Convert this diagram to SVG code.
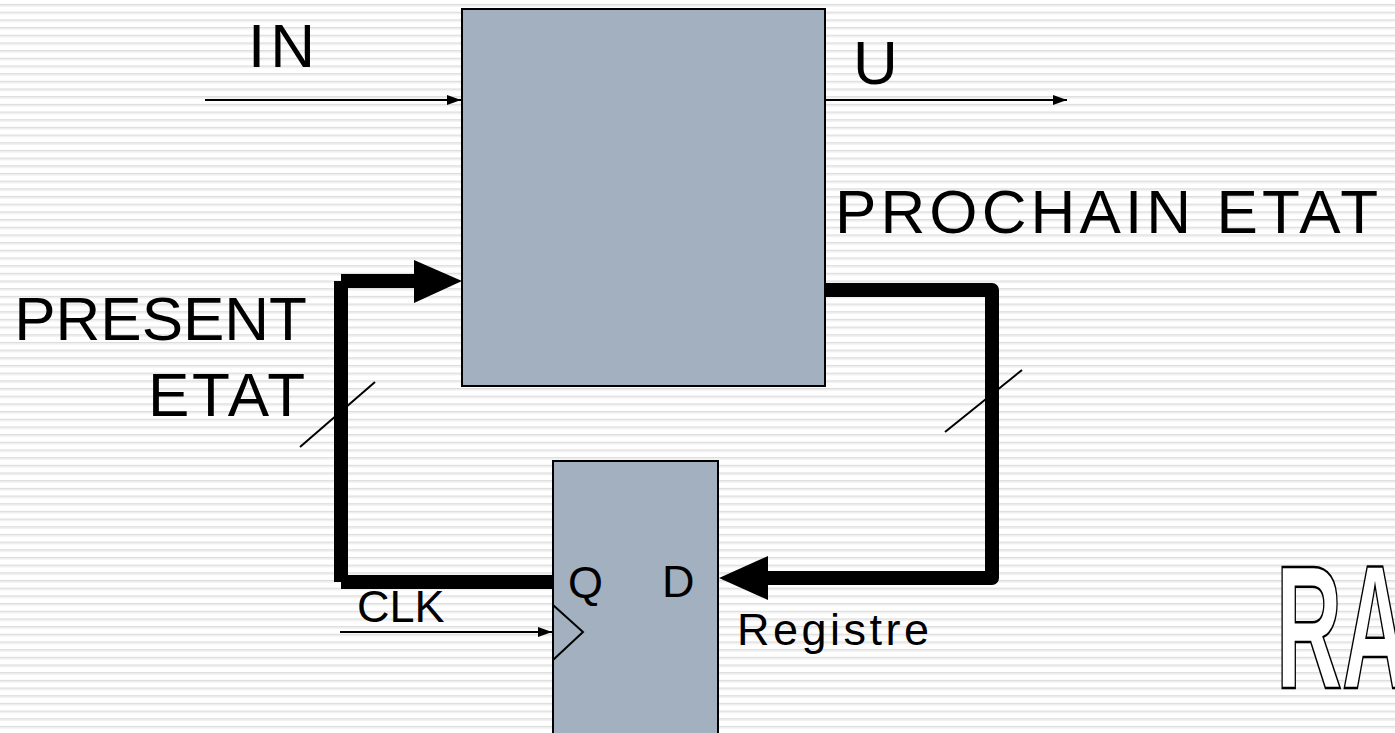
<svg xmlns="http://www.w3.org/2000/svg" width="1395" height="733" viewBox="0 0 1395 733">
<defs>
<pattern id="stripes" x="0" y="4" width="20" height="7.68" patternUnits="userSpaceOnUse">
<rect x="0" y="0" width="20" height="1.3" fill="#dcdcdc"/>
<rect x="0" y="1.3" width="20" height="1.2" fill="#ebebeb"/>
</pattern>
<marker id="ah" markerWidth="14" markerHeight="10" refX="14" refY="5" orient="auto" markerUnits="userSpaceOnUse" viewBox="0 0 14 10">
<path d="M0,0 L14,5 L0,10 Z" fill="#000"/>
</marker>
<style>
.t{font-family:"Liberation Sans",Arial,sans-serif;fill:#000}
.big{font-size:62px}
.med{font-size:45px}
.box{fill:#a2b0bf;stroke:#000;stroke-width:2}
.thin{stroke:#000;stroke-width:2;fill:none}
.thick{stroke:#000;stroke-width:14;fill:none;stroke-linecap:butt}
</style>
</defs>
<rect width="1395" height="733" fill="#fff"/>
<rect width="1395" height="733" fill="url(#stripes)"/>

<g id="logic">
<rect class="box" x="462" y="9" width="363" height="377"/>
</g>
<g id="registre">
<rect class="box" x="553" y="461" width="165" height="290"/>
<polyline class="thin" points="553,605 583,632 553,660"/>
<text class="t med" x="568" y="598">Q</text>
<text class="t med" x="662" y="597">D</text>
</g>

<g id="connectors">
<line class="thin" x1="205" y1="100" x2="461" y2="100" marker-end="url(#ah)"/>
<line class="thin" x1="826" y1="100" x2="1067" y2="100" marker-end="url(#ah)"/>
<line class="thin" x1="340" y1="632" x2="552" y2="632" marker-end="url(#ah)"/>
<line class="thick" x1="341" y1="281" x2="341" y2="582"/>
<line class="thick" x1="341" y1="281" x2="416" y2="281"/>
<polygon points="414,260 462,281 414,303" fill="#000"/>
<line class="thick" x1="341" y1="582" x2="553" y2="582"/>
<polyline points="826,290 992,290 992,578 766,578" fill="none" stroke="#000" stroke-width="14" stroke-linejoin="round"/>
<polygon points="768,556 719,578 768,600" fill="#000"/>
<line class="thin" x1="300" y1="447" x2="375" y2="382"/>
<line class="thin" x1="945" y1="432" x2="1022" y2="370"/>
</g>

<g id="labels">
<text class="t big" x="248" y="67" letter-spacing="5">IN</text>
<text class="t big" x="853" y="84">U</text>
<text class="t big" x="835" y="233" textLength="543" lengthAdjust="spacing">PROCHAIN ETAT</text>
<text class="t big" x="307" y="340" text-anchor="end">PRESENT</text>
<text class="t big" x="148" y="416" textLength="157" lengthAdjust="spacing">ETAT</text>
<text class="t med" x="357" y="622">CLK</text>
<text class="t med" x="737" y="645" textLength="192" lengthAdjust="spacing">Registre</text>
</g>

<g id="logo">
<text x="0" y="0" transform="translate(1276,688) scale(0.52,1)" font-family="Liberation Sans,Arial,sans-serif" font-weight="bold" font-size="176" fill="#fff" stroke="#000" stroke-width="2.5">RA</text>
</g>
</svg>
